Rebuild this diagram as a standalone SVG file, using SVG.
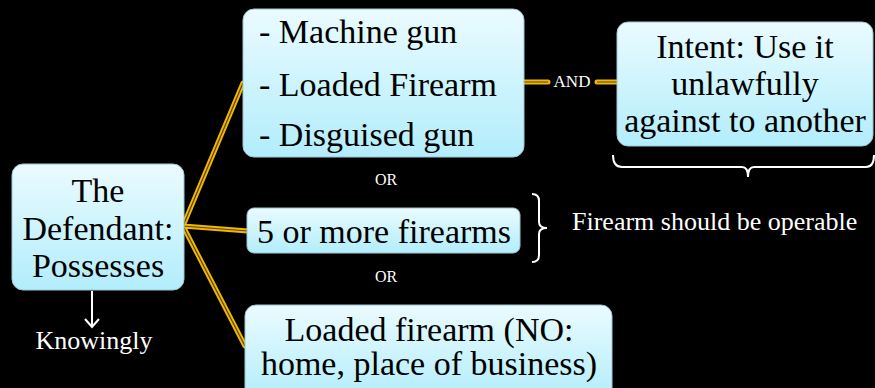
<svg xmlns="http://www.w3.org/2000/svg" width="875" height="388" viewBox="0 0 875 388" font-family="'Liberation Serif', 'DejaVu Serif', serif">
<defs>
<linearGradient id="bx" x1="0" y1="0" x2="0" y2="1">
<stop offset="0" stop-color="#EAFBFF"/>
<stop offset="1" stop-color="#B2EDFB"/>
</linearGradient>
<style>
.box{fill:url(#bx);stroke:#9EC6D0;stroke-width:1}
.t{font-size:34px;fill:#000}
.w{fill:#fff}
.g1{fill:none;stroke:#F2B800;stroke-width:5;stroke-linecap:round}
.g2{fill:none;stroke:#5A4200;stroke-width:1.2}
.br{fill:none;stroke:#fff;stroke-width:2}
</style>
</defs>
<rect width="875" height="388" fill="#000"/>
<g id="connectors">
<path class="g1" d="M243,83 L183,226 L248,231 M183,226 L245,346"/>
<path class="g2" d="M243,83 L183,226 L248,231 M183,226 L245,346"/>
<path class="g1" d="M524,82 H548 M597,82 H617"/>
<path class="g2" d="M524,82 H548 M597,82 H617"/>
<path class="br" d="M92,291 V327 M85,319 L92,327 L99,319"/>
<path class="br" d="M532,194 Q539,194 539,201 V222 Q539,228 547,228 Q539,228 539,234 V255 Q539,262 532,262"/>
<path class="br" d="M613,155 Q613,167 622,167 H742 Q748,167 748,177 Q748,167 754,167 H866 Q874,167 874,155"/>
</g>
<g id="defendant">
<rect class="box" x="12" y="164" width="172" height="126" rx="11"/>
<text class="t" text-anchor="middle"><tspan x="98" y="202">The</tspan><tspan x="98" y="240">Defendant:</tspan><tspan x="98" y="277">Possesses</tspan></text>
</g>
<g id="knowingly">
<text class="w" x="94" y="349" font-size="26" text-anchor="middle">Knowingly</text>
</g>
<g id="weapons">
<rect class="box" x="243" y="9" width="281" height="148" rx="11"/>
<text class="t"><tspan x="259" y="43">- Machine gun</tspan><tspan x="259" y="96">- Loaded Firearm</tspan><tspan x="259" y="146">- Disguised gun</tspan></text>
</g>
<g id="and-label">
<text class="w" x="572" y="87" font-size="17" text-anchor="middle">AND</text>
</g>
<g id="intent">
<rect class="box" x="617" y="22" width="256" height="124" rx="11"/>
<text class="t" text-anchor="middle"><tspan x="745" y="58">Intent: Use it</tspan><tspan x="745" y="95">unlawfully</tspan><tspan x="745" y="132">against to another</tspan></text>
</g>
<g id="or1"><text class="w" x="386" y="185" font-size="16" text-anchor="middle">OR</text></g>
<g id="five">
<rect class="box" x="247" y="208" width="273" height="45" rx="7"/>
<text class="t" x="384" y="243" text-anchor="middle">5 or more firearms</text>
</g>
<g id="operable">
<text class="w" x="572" y="230" font-size="26">Firearm should be operable</text>
</g>
<g id="or2"><text class="w" x="386" y="282" font-size="16" text-anchor="middle">OR</text></g>
<g id="loaded">
<rect class="box" x="245" y="305" width="367" height="95" rx="11"/>
<text class="t" text-anchor="middle"><tspan x="429" y="341">Loaded firearm (NO:</tspan><tspan x="429" y="375">home, place of business)</tspan></text>
</g>
</svg>
